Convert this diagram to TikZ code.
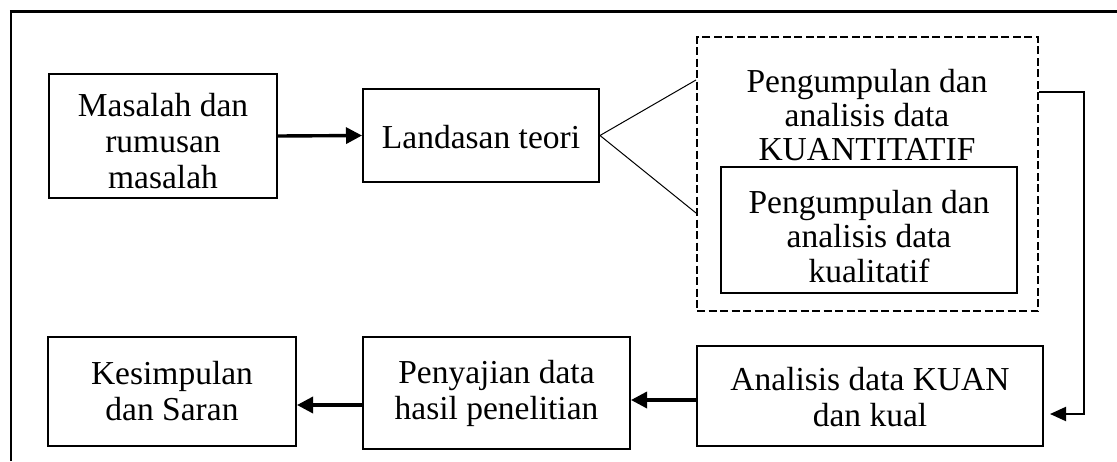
\documentclass[tikz,border=0pt]{standalone}
\usepackage{fontspec}
\setmainfont{Liberation Serif}
\usetikzlibrary{arrows.meta,calc}
\newcommand\tpad[1]{\rule{0pt}{#1}}
\begin{document}
\begin{tikzpicture}[x=1pt,y=-1pt,
  box/.style={draw,line width=2pt,rectangle,inner sep=0pt,align=center,
    font=\fontsize{33.5}{36}\selectfont},
  plain/.style={inner sep=0pt,align=center,font=\fontsize{33.5}{34}\selectfont},
  dashbox/.style={draw,line width=2pt,dash pattern=on 8pt off 3.5pt,rectangle,inner sep=0pt},
  arr/.style={line width=3.4pt,-{Triangle[length=16pt,width=16pt]}},
  arrthin/.style={line width=2pt,-{Triangle[length=16pt,width=14pt]}},
  thinline/.style={line width=1pt}
]
\useasboundingbox (0,0) rectangle (1117,461);
% outer frame (partly visible)
\coordinate (frameTL) at (11,11);
\coordinate (frameTR) at (1117,11);
\coordinate (frameBL) at (11,461);
\draw[line width=2.2pt] (frameBL) -- (frameTL);
\draw[line width=3pt] ([xshift=-1.1pt]frameTL) -- (frameTR);

% nodes
\node[box,minimum width=228pt,minimum height=124pt] (mas) at (163,136) {\tpad{33pt}Masalah dan\\rumusan\\masalah};
\node[box,minimum width=236pt,minimum height=93pt] (lan) at (481,135.5) {\tpad{26pt}Landasan teori};
\node[dashbox,minimum width=341pt,minimum height=274pt] (dash) at (867.5,174) {};
\node[plain] (kuan) at (867,115) {Pengumpulan dan\\analisis data\\KUANTITATIF};
\node[box,minimum width=296pt,minimum height=126pt,font=\fontsize{33.5}{34.5}\selectfont] (kual) at (869,230) {\tpad{36pt}Pengumpulan dan\\analisis data\\kualitatif};
\node[box,minimum width=346pt,minimum height=100pt] (ana) at (870,396) {\tpad{25pt}Analisis data KUAN\\dan kual};
\node[box,minimum width=267pt,minimum height=112pt] (pen) at (496.5,393) {\tpad{25pt}Penyajian data\\hasil penelitian};
\node[box,minimum width=248pt,minimum height=109pt] (kes) at (172,391.5) {Kesimpulan\\dan Saran};

% connectors
\draw[arr] (mas.east) -- (lan.west);
\coordinate (dUp) at ([yshift=94pt]dash.west);
\coordinate (dDown) at ([yshift=-39pt]dash.west);
\draw[thinline] (dUp) -- (lan.east) -- (dDown);
\coordinate (rStart) at ([yshift=82pt]dash.east);
\coordinate (rEnd) at ([xshift=6pt,yshift=-18pt]ana.east);
\draw[arrthin] (rStart) -- ++(45,0) |- (rEnd);
\draw[arr] ([yshift=-4pt]ana.west) -- ([yshift=-4pt]ana.west -| pen.east);
\draw[arr] ([yshift=-12pt]pen.west) -- ([yshift=-12pt]pen.west -| kes.east);
\end{tikzpicture}
\end{document}
